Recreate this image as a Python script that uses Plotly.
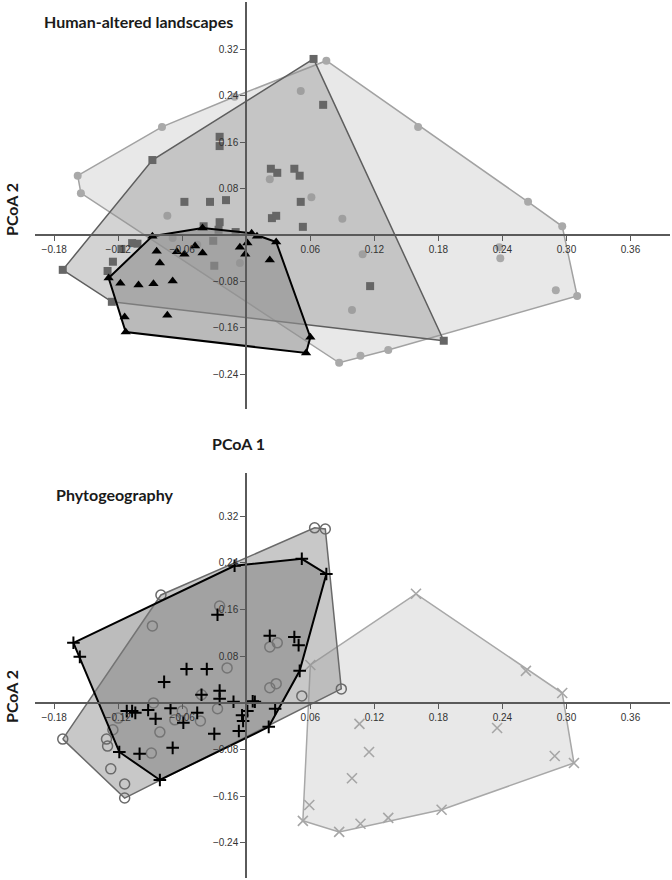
import plotly.graph_objects as go

# ---------------- Data: top panel "Human-altered landscapes" ----------------
ha_circle_x = [-0.158, -0.155, -0.079, -0.011, 0.075, 0.051, 0.022, 0.061, -0.074, -0.069,
               -0.046, -0.006, 0.090, 0.109, 0.099, 0.161, 0.264, 0.296, 0.310, 0.290,
               0.238, 0.237, 0.133, 0.107, 0.087]
ha_circle_y = [0.102, 0.072, 0.186, 0.238, 0.300, 0.248, 0.096, 0.065, 0.033, -0.005,
               -0.017, -0.048, 0.028, -0.033, -0.129, 0.186, 0.057, 0.015, -0.105, -0.095,
               -0.040, -0.021, -0.198, -0.208, -0.220]

ha_square_x = [0.063, 0.072, -0.088, -0.025, -0.025, 0.023, 0.029, 0.045, 0.050, 0.051,
               -0.058, -0.034, -0.019, 0.024, 0.028, 0.053, -0.040, -0.025, -0.026, -0.010,
               -0.031, -0.030, -0.107, -0.102, -0.117, -0.125, -0.130, -0.172, -0.126, 0.116,
               0.185]
ha_square_y = [0.303, 0.224, 0.129, 0.169, 0.153, 0.114, 0.107, 0.114, 0.102, 0.057,
               0.057, 0.057, 0.060, 0.029, 0.033, 0.014, 0.015, 0.022, 0.009, 0.005,
               -0.010, -0.053, -0.014, -0.015, -0.024, -0.046, -0.062, -0.060, -0.115, -0.088,
               -0.182]

ha_triangle_x = [-0.088, -0.041, 0.005, 0.010, 0.028, 0.001, -0.006, -0.001, 0.022, -0.048,
                 -0.041, -0.065, -0.058, -0.084, -0.081, -0.129, -0.118, -0.101, -0.087, -0.069,
                 -0.114, -0.074, -0.113, 0.060, 0.056]
ha_triangle_y = [-0.002, 0.012, 0.003, -0.002, -0.012, -0.014, -0.021, -0.033, -0.043, -0.019,
                 -0.031, -0.029, -0.033, -0.028, -0.048, -0.074, -0.083, -0.086, -0.084, -0.079,
                 -0.141, -0.138, -0.167, -0.176, -0.203]

# ---------------- Data: bottom panel "Phytogeography" ----------------
pg_circle_x = [0.064, 0.074, -0.080, -0.025, -0.088, 0.029, 0.022, -0.018, 0.028, 0.022,
               0.052, 0.089, -0.042, -0.087, -0.060, -0.027, -0.067, -0.043, -0.120, -0.081,
               -0.125, -0.131, -0.130, -0.172, -0.089, -0.127, -0.114, -0.114]
pg_circle_y = [0.300, 0.298, 0.185, 0.166, 0.132, 0.103, 0.096, 0.060, 0.033, 0.026,
               0.012, 0.024, 0.014, 0.000, -0.014, -0.010, -0.029, -0.031, -0.026, -0.050,
               -0.046, -0.062, -0.074, -0.062, -0.086, -0.113, -0.139, -0.163]

pg_plus_x = [-0.162, -0.156, -0.011, 0.052, 0.075, -0.027, 0.022, 0.045, 0.049, -0.056,
             -0.037, -0.077, 0.050, -0.042, -0.025, -0.025, -0.012, 0.006, 0.008, -0.071,
             -0.092, -0.112, -0.107, -0.104, -0.046, 0.001, 0.027, -0.085, -0.059, -0.004,
             -0.003, 0.021, -0.007, -0.030, -0.119, -0.100, -0.069, -0.081]
pg_plus_y = [0.103, 0.079, 0.235, 0.247, 0.221, 0.151, 0.115, 0.113, 0.099, 0.058,
             0.058, 0.036, 0.055, 0.014, 0.021, 0.007, 0.002, 0.003, 0.002, -0.009,
             -0.012, -0.014, -0.014, -0.017, -0.017, -0.014, -0.010, -0.027, -0.034, -0.021,
             -0.031, -0.041, -0.048, -0.053, -0.084, -0.087, -0.077, -0.132]

pg_x_x = [0.159, 0.262, 0.296, 0.307, 0.289, 0.235, 0.106, 0.115, 0.099, 0.183,
          0.133, 0.107, 0.087, 0.053, 0.059, 0.060]
pg_x_y = [0.187, 0.055, 0.017, -0.103, -0.091, -0.043, -0.036, -0.084, -0.129, -0.183,
          -0.197, -0.207, -0.221, -0.202, -0.175, 0.065]

x_ticks = [-0.18, -0.12, -0.06, 0.06, 0.12, 0.18, 0.24, 0.30, 0.36]
y_ticks = [-0.24, -0.16, -0.08, 0.08, 0.16, 0.24, 0.32]

titles = ["Human-altered landscapes", "Phytogeography"]
axis_x_title = "PCoA 1"
axis_y_title = "PCoA 2"


def convex_hull(xs, ys):
    pts = sorted(set(zip(xs, ys)))
    if len(pts) < 3:
        return [p[0] for p in pts], [p[1] for p in pts]

    def cross(o, a, b):
        return (a[0] - o[0]) * (b[1] - o[1]) - (a[1] - o[1]) * (b[0] - o[0])

    lower = []
    for p in pts:
        while len(lower) >= 2 and cross(lower[-2], lower[-1], p) <= 0:
            lower.pop()
        lower.append(p)
    upper = []
    for p in reversed(pts):
        while len(upper) >= 2 and cross(upper[-2], upper[-1], p) <= 0:
            upper.pop()
        upper.append(p)
    hull = lower[:-1] + upper[:-1]
    hull.append(hull[0])
    return [p[0] for p in hull], [p[1] for p in hull]


fig = go.Figure()


def add_group(xs, ys, xa, ya, fill, line_color, line_w, marker):
    hx, hy = convex_hull(xs, ys)
    fig.add_trace(go.Scatter(x=hx, y=hy, mode="lines", fill="toself", fillcolor=fill,
                             line=dict(color=line_color, width=line_w),
                             xaxis=xa, yaxis=ya, hoverinfo="skip", showlegend=False))
    fig.add_trace(go.Scatter(x=xs, y=ys, mode="markers", marker=marker,
                             xaxis=xa, yaxis=ya, showlegend=False))


# top panel
add_group(ha_circle_x, ha_circle_y, "x", "y", "rgba(190,190,190,0.36)", "#a2a2a2", 1.5,
          dict(symbol="circle", size=8, color="#a9a9a9"))
add_group(ha_square_x, ha_square_y, "x", "y", "rgba(146,146,146,0.40)", "#5e5e5e", 1.5,
          dict(symbol="square", size=8, color="#666666"))
add_group(ha_triangle_x, ha_triangle_y, "x", "y", "rgba(143,143,143,0.62)", "#000000", 2,
          dict(symbol="triangle-up", size=9, color="#000000"))

# bottom panel
add_group(pg_x_x, pg_x_y, "x2", "y2", "rgba(190,190,190,0.36)", "#a8a8a8", 1.5,
          dict(symbol="x-thin-open", size=10, color="#a6a6a6", line=dict(width=1.6, color="#a6a6a6")))
add_group(pg_circle_x, pg_circle_y, "x2", "y2", "rgba(146,146,146,0.50)", "#6a6a6a", 1.5,
          dict(symbol="circle-open", size=10, color="#6a6a6a", line=dict(width=1.5, color="#6a6a6a")))
add_group(pg_plus_x, pg_plus_y, "x2", "y2", "rgba(127,127,127,0.52)", "#000000", 2,
          dict(symbol="cross-thin-open", size=9, color="#000000", line=dict(width=2, color="#000000")))

W, H = 672, 880
tick_font = dict(family="Liberation Sans", size=10, color="#333333")


def xaxis_cfg(pos_y_px):
    return dict(domain=[35 / W, 670 / W], range=[-0.198, 0.397], anchor="free",
                position=1 - pos_y_px / H, showgrid=False, zeroline=False,
                showline=True, linecolor="#5a5a5a", linewidth=1.5,
                ticks="outside", ticklen=5, tickcolor="#5a5a5a", tickwidth=1,
                tickvals=x_ticks, tickformat=".2f", tickfont=tick_font)


def yaxis_cfg(top_px, bot_px, rng):
    return dict(domain=[1 - bot_px / H, 1 - top_px / H], range=rng, anchor="free",
                position=246 / W, showgrid=False, zeroline=False,
                showline=True, linecolor="#5a5a5a", linewidth=1.5,
                ticks="outside", ticklen=5, tickcolor="#5a5a5a", tickwidth=1,
                tickvals=y_ticks, tickformat=".2f", tickfont=tick_font)


title_font = dict(family="Lato", size=16, color="#1a1a1a")
label_font = dict(family="Lato", size=16, color="#1a1a1a")

fig.update_layout(
    width=W, height=H,
    margin=dict(l=0, r=0, t=0, b=0),
    paper_bgcolor="white", plot_bgcolor="rgba(0,0,0,0)",
    xaxis=xaxis_cfg(235),
    yaxis=yaxis_cfg(2, 409, [-0.2995, 0.401]),
    xaxis2=xaxis_cfg(703),
    yaxis2=yaxis_cfg(473, 878, [-0.300, 0.394]),
    annotations=[
        dict(text="<b>%s</b>" % titles[0], x=42 / W, y=1 - 21 / H, xref="paper", yref="paper",
             xanchor="left", yanchor="middle", showarrow=False, font=title_font),
        dict(text="<b>%s</b>" % titles[1], x=54 / W, y=1 - 494 / H, xref="paper", yref="paper",
             xanchor="left", yanchor="middle", showarrow=False, font=title_font),
        dict(text="<b>%s</b>" % axis_y_title, x=11 / W, y=1 - 210 / H, xref="paper", yref="paper",
             xanchor="center", yanchor="middle", showarrow=False, textangle=-90, font=label_font),
        dict(text="<b>%s</b>" % axis_y_title, x=11 / W, y=1 - 697 / H, xref="paper", yref="paper",
             xanchor="center", yanchor="middle", showarrow=False, textangle=-90, font=label_font),
        dict(text="<b>%s</b>" % axis_x_title, x=238 / W, y=1 - 443 / H, xref="paper", yref="paper",
             xanchor="center", yanchor="middle", showarrow=False, font=label_font),
    ],
)

fig.write_html("out.html", config={"displayModeBar": False},
               post_script="document.body.style.margin='0';")
